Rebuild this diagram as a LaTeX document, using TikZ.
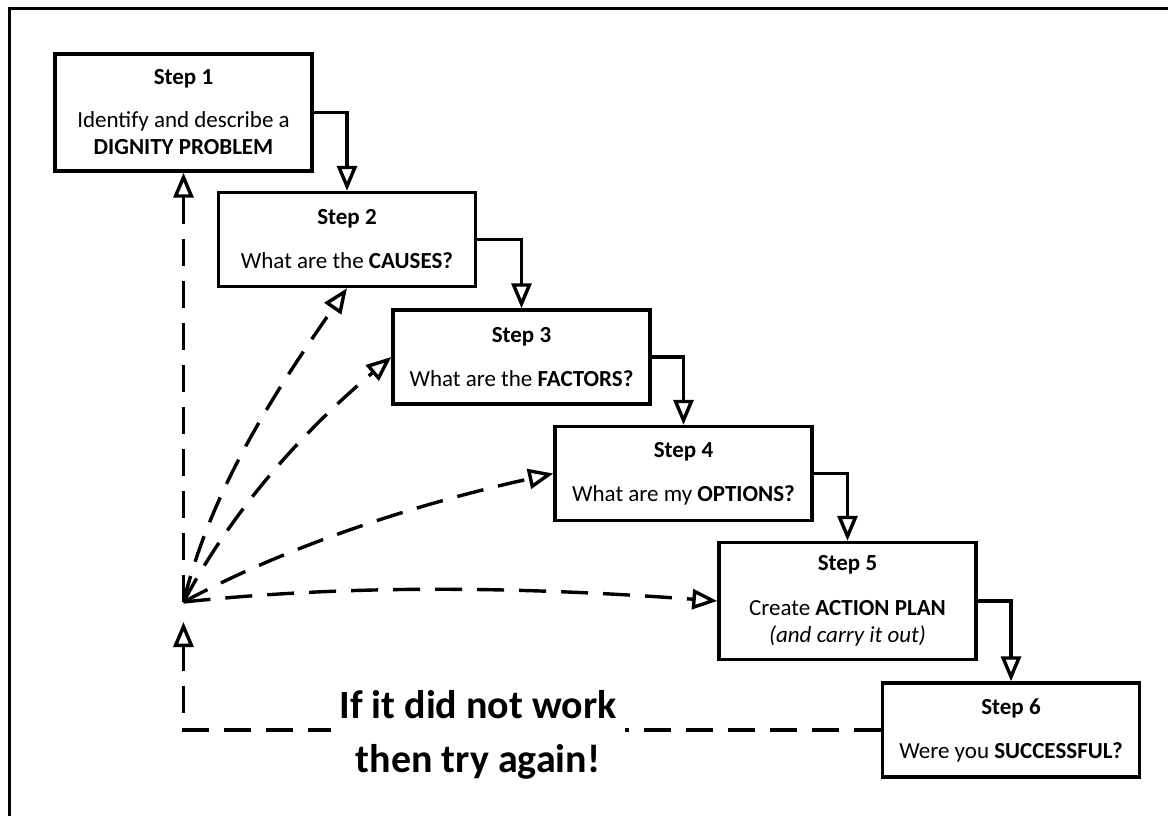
\documentclass[tikz,border=0pt]{standalone}
\usepackage{fontspec}
\setmainfont{Carlito}
\usetikzlibrary{arrows.meta}

\tikzset{
  stepbox/.style={draw, line width=3.4pt, minimum width=257pt, minimum height=94pt,
    inner sep=0pt, align=center, font=\fontsize{23}{27}\selectfont},
  tallbox/.style={stepbox, minimum height=117pt},
  flow/.style={line width=3.4pt, -{Triangle[open, length=25pt, width=20pt]}},
  back/.style={flow, dash pattern=on 27pt off 15pt},
  slogan/.style={fill=white, inner xsep=8pt, inner ysep=2pt, align=center,
    font=\fontsize{40}{54}\selectfont\bfseries},
}

\begin{document}
\begin{tikzpicture}[x=1pt, y=-1pt]
  \useasboundingbox (0,0) rectangle (1168,816);

  % page frame (only the top and left edges fall inside)
  \draw[line width=3.4pt] (9.5,830) -- (9.5,8.5) -- (1180,8.5);

  % the six steps
  \node[tallbox]  (b1) at (183.5,112.5) {\textbf{Step 1}\\[16pt]Identify and describe a\\\textbf{DIGNITY PROBLEM}};
  \node[stepbox]  (b2) at (347,239.5)   {\textbf{Step 2}\\[17pt]What are the \textbf{CAUSES?}};
  \node[stepbox]  (b3) at (521.5,357)   {\textbf{Step 3}\\[17pt]What are the \textbf{FACTORS?}};
  \node[stepbox]  (b4) at (683.5,473.5) {\textbf{Step 4}\\[17pt]What are my \textbf{OPTIONS?}};
  \node[tallbox]  (b5) at (847.5,601)   {\textbf{Step 5}\\[18pt]Create \textbf{ACTION PLAN}\\\textit{(and carry it out)}};
  \node[stepbox]  (b6) at (1011,730)    {\textbf{Step 6}\\[17pt]Were you \textbf{SUCCESSFUL?}};

  % forward flow
  \draw[flow] (b1.east) -| (b2.north);
  \draw[flow] (b2.east) -| (b3.north);
  \draw[flow] (b3.east) -| (b4.north);
  \draw[flow] (b4.east) -| (b5.north);
  \draw[flow] (b5.east) -| (b6.north);

  % return paths
  \coordinate (hub)   at (183.5,602);
  \coordinate (retry) at (183.5,622);

  \draw[back] (b6.west) -| (retry);
  \draw[back] (hub) -- (b1.south);
  \draw[back] (hub) .. controls (212,486) and (279,386) .. (b2.south);
  \draw[back] (hub) .. controls (235,505) and (308,427) .. (b3.west);
  \draw[back] (hub) .. controls (297,541) and (429,501) .. (b4.west);
  \draw[back] (hub) .. controls (362,583) and (539,588) .. (b5.west);

  \node[slogan] (msg) at (478,735) {If it did not work\\then try again!};
\end{tikzpicture}
\end{document}
